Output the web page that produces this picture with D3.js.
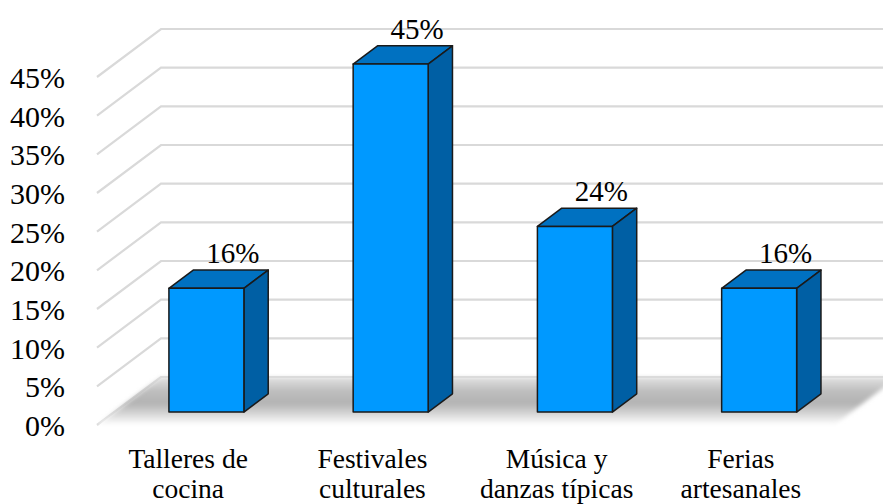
<!DOCTYPE html>
<html>
<head>
<meta charset="utf-8">
<script src="https://cdn.jsdelivr.net/npm/d3@7"></script>
<style>
  html, body { margin: 0; padding: 0; background: #fff; }
  svg { display: block; }
</style>
</head>
<body>
<svg id="chart" width="883" height="504"></svg>
<script>
const categories = [["Talleres de", "cocina"], ["Festivales", "culturales"], ["Música y", "danzas típicas"], ["Ferias", "artesanales"]];
const values = [16, 45, 24, 16];
const tickValues = [0, 5, 10, 15, 20, 25, 30, 35, 40, 45];
const valueLabels = ["16%", "45%", "24%", "16%"];

const FONT = "'Liberation Serif', 'Times New Roman', Tinos, 'DejaVu Serif', serif";
const svg = d3.select("#chart");
const keys = categories.map(c => c.join(" "));

const x = d3.scaleBand().domain(keys).range([97, 834]).paddingInner(0.593).paddingOuter(0.2965);
const y = d3.scaleLinear().domain([0, 45]).range([425, 77]);
const dX = d3.scaleLinear().domain([0, 1]).range([0, 64]);
const dY = d3.scaleLinear().domain([0, 1]).range([0, -48]);
const zFront = 0.27, zBack = 0.65;

const P = (px, v, z) => [px + dX(z), y(v) + dY(z)];

// defs
const defs = svg.append("defs");
const grad = defs.append("linearGradient").attr("id", "floorGrad")
  .attr("x1", 0).attr("y1", 0).attr("x2", 0).attr("y2", 1);
[[0, "#e2e2e2"], [0.3, "#bdbdbd"], [0.55, "#b3b3b3"], [0.8, "#dcdcdc"], [1, "#ffffff"]]
  .forEach(([o, c]) => grad.append("stop").attr("offset", o).attr("stop-color", c));
defs.append("filter").attr("id", "blur").attr("x", "-5%").attr("y", "-20%").attr("width", "110%").attr("height", "140%")
  .append("feGaussianBlur").attr("stdDeviation", 2);

// gridlines
const [x0, x1] = x.range();
svg.append("g").selectAll("path").data(tickValues).join("path")
  .attr("d", v => {
    const a = P(x0, v, 0), b = P(x0, v, 1), c = P(x1, v, 1);
    return `M${a}L${b}L${c[0] + 40},${c[1]}`;
  })
  .attr("fill", "none").attr("stroke", "#d9d9d9").attr("stroke-width", 2.2);

// floor
const floorPts = [P(x0, 0, 0), P(x0, 0, 1), P(x1, 0, 1), P(x1, 0, 0)];
svg.append("path").attr("d", "M" + floorPts.join("L") + "Z")
  .attr("fill", "url(#floorGrad)").attr("filter", "url(#blur)");

// tick labels
svg.append("g").selectAll("text").data(tickValues).join("text")
  .attr("x", 65).attr("y", v => y(v) + 11)
  .attr("text-anchor", "end").attr("font-size", 30).attr("font-family", FONT)
  .text(v => v + "%");

// bars
const bw = x.bandwidth();
const bars = svg.append("g").selectAll("g").data(values.map((v, i) => ({ k: keys[i], v, i }))).join("g");
const poly = pts => "M" + pts.join("L") + "Z";
bars.append("path").attr("d", d => {
  const l = x(d.k), r = l + bw;
  return poly([P(l, d.v, zFront), P(l, d.v, zBack), P(r, d.v, zBack), P(r, d.v, zFront)]);
}).attr("fill", "#0071c1");
bars.append("path").attr("d", d => {
  const l = x(d.k), r = l + bw;
  return poly([P(r, d.v, zFront), P(r, d.v, zBack), P(r, 0, zBack), P(r, 0, zFront)]);
}).attr("fill", "#005fa4");
bars.append("path").attr("d", d => {
  const l = x(d.k), r = l + bw;
  return poly([P(l, d.v, zFront), P(r, d.v, zFront), P(r, 0, zFront), P(l, 0, zFront)]);
}).attr("fill", "#0099ff");
bars.selectAll("path").attr("stroke", "#1a1a1a").attr("stroke-width", 1.5).attr("stroke-linejoin", "round");

// value labels
bars.append("text")
  .attr("x", d => P(x(d.k) + bw / 2, d.v, zBack)[0] + 2)
  .attr("y", d => P(0, d.v, zBack)[1] - 7)
  .attr("text-anchor", "middle").attr("font-size", 29).attr("font-family", FONT)
  .text(d => valueLabels[d.i]);

// category labels
const cat = svg.append("g").selectAll("text").data(categories).join("text")
  .attr("text-anchor", "middle").attr("font-size", 27.5).attr("font-family", FONT)
  .attr("x", (c, i) => x(keys[i]) + bw / 2 - 1);
cat.selectAll("tspan").data(c => c).join("tspan")
  .attr("x", function () { return this.parentNode.getAttribute("x"); })
  .attr("y", (t, j) => 468 + j * 30)
  .text(t => t);
</script>
</body>
</html>
